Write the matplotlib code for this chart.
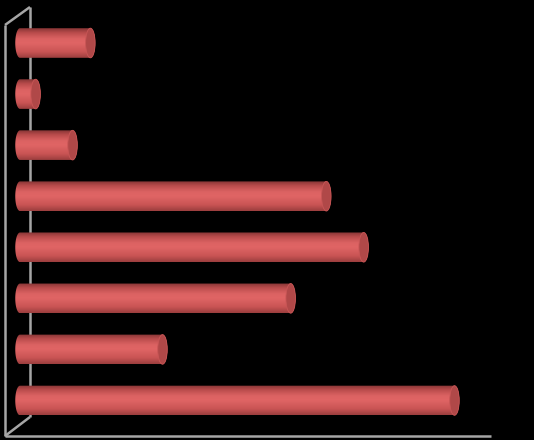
import numpy as np
import matplotlib
matplotlib.use("Agg")
import matplotlib.pyplot as plt
from matplotlib.path import Path
from matplotlib.patches import PathPatch, Ellipse
from matplotlib.colors import LinearSegmentedColormap

# data (top bar first, scaled so the longest = 100)
categories = ["A", "B", "C", "D", "E", "F", "G", "H"]
values = [16.2, 3.6, 12.1, 70.5, 79.1, 62.3, 32.8, 100.0]

W, H = 534, 440
fig = plt.figure(figsize=(W / 100, H / 100), dpi=100, facecolor="black")
ax = fig.add_axes([0, 0, 1, 1])
ax.set_facecolor("black")
ax.axis("off")

# axis scales: value 0 sits at x=20 px, 4.345 px per unit; rows 51 px apart
px_per_unit = 4.345
row_px = 51.07

bar_h = 0.58
cap_w = 9.5 / px_per_unit

# vertical shading of the cylinder body
body_cmap = LinearSegmentedColormap.from_list(
    "cyl", [(0.0, "#9c3e3e"), (0.2, "#c95454"), (0.5, "#e06565"),
            (0.65, "#db6262"), (0.85, "#b94c4c"), (1.0, "#873535")])
grad = np.linspace(0, 1, 64).reshape(-1, 1)


def cylinder_path(v, y):
    t = np.linspace(-np.pi / 2, np.pi / 2, 40)
    rx, ry = cap_w / 2, bar_h / 2
    right = np.column_stack([v + rx * np.cos(t), y + ry * np.sin(t)])
    left = np.column_stack([0 - rx * np.cos(t[::-1]), y + ry * np.sin(t[::-1])])
    verts = np.vstack([right, left, right[:1]])
    codes = [Path.MOVETO] + [Path.LINETO] * (len(verts) - 2) + [Path.CLOSEPOLY]
    return Path(verts, codes)


for i, v in enumerate(values):
    patch = PathPatch(cylinder_path(v, i), facecolor="none", edgecolor="none",
                      transform=ax.transData)
    ax.add_patch(patch)
    im = ax.imshow(grad, cmap=body_cmap, aspect="auto", interpolation="bilinear",
                   extent=(-cap_w, v + cap_w, i - bar_h / 2, i + bar_h / 2),
                   zorder=3)
    im.set_clip_path(patch)
    cap = Ellipse((v, i), cap_w, bar_h, facecolor="#b04848",
                  edgecolor="#c85656", lw=0.6, zorder=4)
    ax.add_patch(cap)

ax.set_xlim(-20 / px_per_unit, (W - 20) / px_per_unit)
ax.set_ylim(len(values) - 1 + (H - 400.5) / row_px, -43 / row_px)


# chart frame (3d walls), given in pixel positions
def fpx(x, y):
    return x / W, 1 - y / H


frame = [((5, 25), (5, 436)), ((5, 25), (30, 7)), ((30, 7), (30, 417)),
         ((5, 436), (30, 417)), ((5, 436), (491, 436))]
for a, b in frame:
    (x0, y0), (x1, y1) = fpx(*a), fpx(*b)
    ax.plot([x0, x1], [y0, y1], color="#a6a6a6", lw=1.8,
            transform=fig.transFigure, zorder=1, solid_capstyle="butt")

fig.savefig("out.png", dpi=100, facecolor="black")
